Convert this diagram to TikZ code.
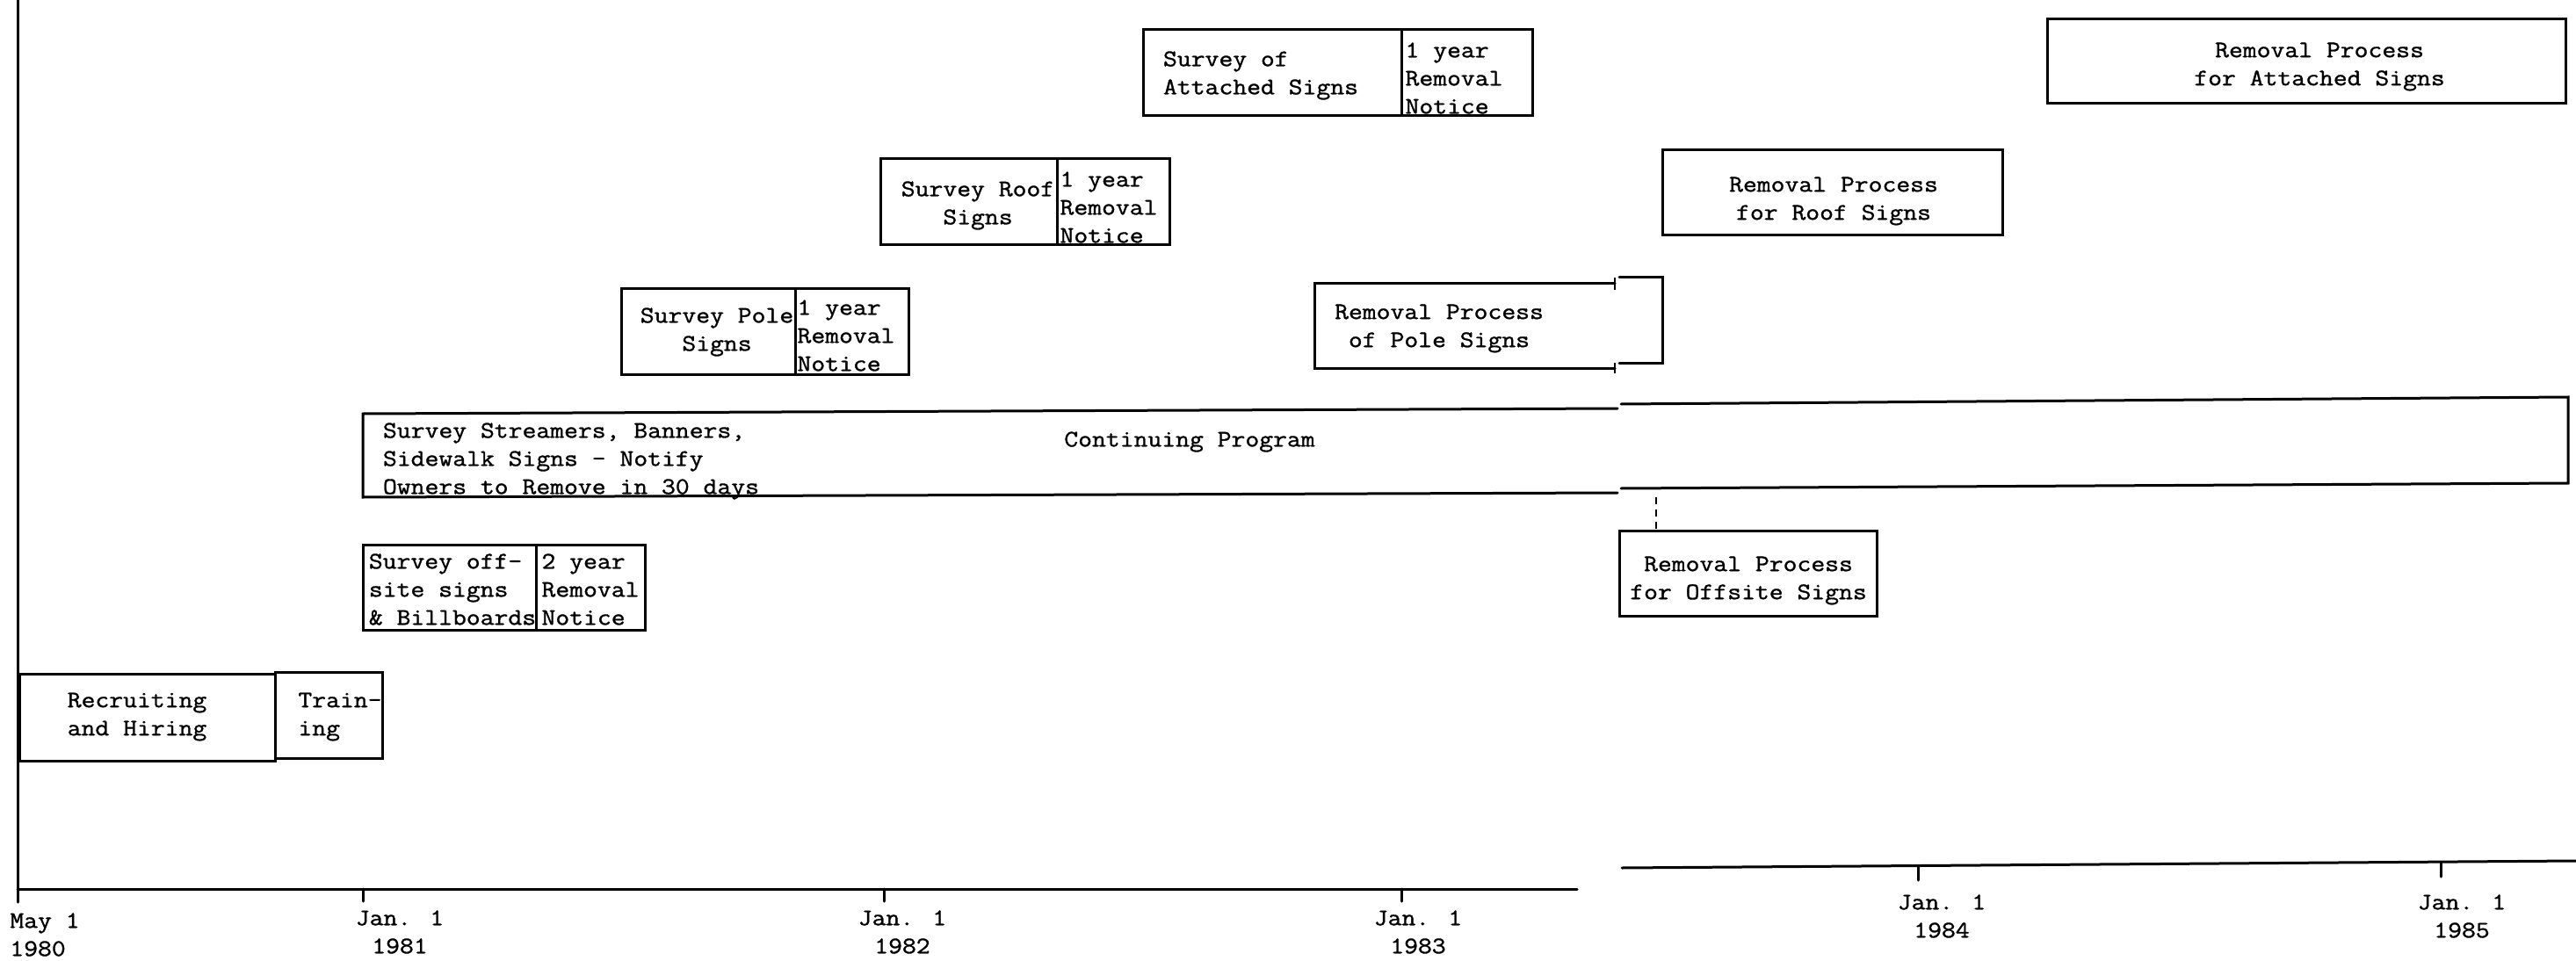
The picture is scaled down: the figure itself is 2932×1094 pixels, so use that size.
\documentclass[tikz,border=0pt]{standalone}
\usepackage{fontspec}
\newfontfamily\tw{Latin Modern Mono}[FakeStretch=1.14, FakeBold=1.2]
\begin{document}
\begin{tikzpicture}[x=1pt,y=-1pt,
  ln/.style={line width=3pt, line cap=round, line join=miter},
  thin seam/.style={line width=2pt},
  lbl/.style={font=\tw\fontsize{27}{32}\selectfont, inner sep=0pt, align=left},
  lblc/.style={lbl, align=center}]
\useasboundingbox (0,0) rectangle (2932,1094);

% time axis
\coordinate (ax0) at (20,0);
\coordinate (ax1) at (20,1027);
\coordinate (axl) at (20,1012);
\coordinate (axr) at (1795,1012);
\coordinate (bxl) at (1846,988);
\coordinate (bxr) at (2932,980);
\draw[ln] (ax0) -- (ax1);
\draw[ln] (axl) -- (axr);
\draw[ln] (bxl) -- (bxr);
\foreach \x in {413,1006,1595} \draw[ln] (\x,1012) -- (\x,1026);
\draw[ln] (2183,986) -- (2183,1002);
\draw[ln] (2778,982) -- (2778,998);

\node[lbl]  (may) at (51,1064) {May 1\\1980};
\node[lblc] (j81) at (455,1061) {Jan. 1\\1981};
\node[lblc] (j82) at (1027,1061) {Jan. 1\\1982};
\node[lblc] (j83) at (1614,1061) {Jan. 1\\1983};
\node[lblc] (j84) at (2210,1043) {Jan. 1\\1984};
\node[lblc] (j85) at (2802,1043) {Jan. 1\\1985};

% recruiting and training
\draw[ln] (22,767) rectangle (313,866);
\draw[ln] (313,765) rectangle (435,863);
\node[lblc] (recr) at (156,816) {Recruiting\\and Hiring};
\node[lbl]  (train) at (387,816) {Train-\\ing};

% off-site signs
\draw[ln] (413,620) rectangle (610,717);
\draw[ln] (610,620) rectangle (734,717);
\node[lbl] (offs) at (515,671) {Survey off-\\site signs\\\& Billboards};
\node[lbl] (offn) at (672,671) {2 year\\Removal\\Notice};

% streamers / continuing program
\draw[ln] (1841,465) -- (413,471) -- (413,566) -- (1841,561);
\draw[ln] (1845,460) -- (2923,452) -- (2923,550) -- (1845,556);
\node[lbl] (strm) at (650,525) {Survey Streamers, Banners,\\Sidewalk Signs - Notify\\Owners to Remove in 30 days};
\node[lbl] (cont) at (1354,503) {Continuing Program};

% pole signs
\draw[ln] (707,328) rectangle (905,426);
\draw[ln] (905,328) rectangle (1034,426);
\node[lblc] (pole) at (816,378) {Survey Pole\\Signs};
\node[lbl]  (polen) at (963,382) {1 year\\Removal\\Notice};

% roof signs
\draw[ln] (1002,181) rectangle (1203,278);
\draw[ln] (1203,181) rectangle (1331,278);
\node[lblc] (roof) at (1113,234) {Survey Roof\\Signs};
\node[lbl]  (roofn) at (1262,236) {1 year\\Removal\\Notice};

% attached signs
\draw[ln] (1301,34) rectangle (1595,132);
\draw[ln] (1595,34) rectangle (1744,132);
\node[lbl] (att) at (1435,86) {Survey of\\Attached Signs};
\node[lbl] (attn) at (1655,89) {1 year\\Removal\\Notice};

% removal of pole signs (pasted seam)
\draw[ln] (1838,322) -- (1496,322) -- (1496,419) -- (1838,419);
\draw[thin seam] (1838,316) -- (1838,330);
\draw[thin seam] (1838,413) -- (1838,425);
\draw[ln] (1843,315) -- (1892,315) -- (1892,413) -- (1843,413);
\node[lblc] (rpole) at (1638,374) {Removal Process\\of Pole Signs};

% removal of roof signs
\draw[ln] (1892,171) rectangle (2279,267);
\node[lblc] (rroof) at (2087,229) {Removal Process\\for Roof Signs};

% removal of offsite signs
\draw[thin seam, dash pattern=on 8pt off 6pt] (1885,566) -- (1885,602);
\draw[ln] (1843,604) rectangle (2136,701);
\node[lblc] (roff) at (1990,661) {Removal Process\\for Offsite Signs};

% removal of attached signs
\draw[ln] (2330,22) rectangle (2920,118);
\node[lblc] (ratt) at (2640,76) {Removal Process\\for Attached Signs};
\end{tikzpicture}
\end{document}
